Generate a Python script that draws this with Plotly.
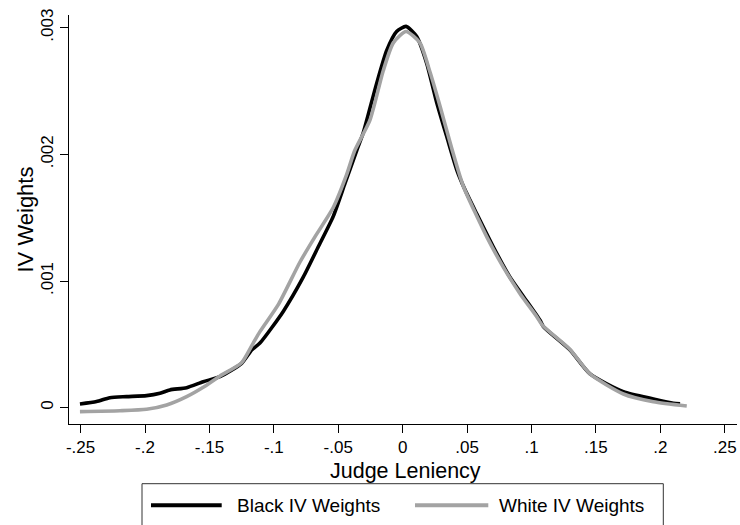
import plotly.graph_objects as go

# Kernel-smoothed IV weights by judge leniency
black_x = [-0.2505, -0.2376, -0.2273, -0.2143, -0.1988, -0.1884, -0.1807, -0.1677,
           -0.1548, -0.1418, -0.125, -0.1172, -0.1108, -0.0927, -0.0772, -0.0655,
           -0.0539, -0.0448, -0.0357, -0.0306, -0.0202, -0.0124, -0.0047, 0.0026,
           0.0109, 0.0186, 0.0264, 0.0342, 0.0419, 0.0484, 0.0575, 0.0703, 0.0833,
           0.0936, 0.1066, 0.1092, 0.1299, 0.1454, 0.1713, 0.1946, 0.2101, 0.2153]
black_y = [0.000029, 0.000048, 0.000079, 0.000087, 0.000095, 0.000114, 0.00014, 0.000158,
           0.000205, 0.000245, 0.00035, 0.000455, 0.00051, 0.00076, 0.00103, 0.00127,
           0.00151, 0.00177, 0.00203, 0.00217, 0.00256, 0.00282, 0.00297, 0.00301,
           0.00293, 0.00272, 0.00241, 0.00214, 0.00188, 0.00172, 0.00153, 0.00127, 0.00103,
           0.00088, 0.00069, 0.00064, 0.000455, 0.000266, 0.000126, 0.000069, 0.000035, 0.00003]

white_x = [-0.2505, -0.2195, -0.1988, -0.1832, -0.1677, -0.1548, -0.1418, -0.125,
           -0.116, -0.1108, -0.0962, -0.0797, -0.068, -0.0539, -0.0435, -0.0372,
           -0.0254, -0.0151, -0.0073, 0.0026, 0.0134, 0.0212, 0.029, 0.038, 0.047,
           0.0652, 0.0781, 0.0911, 0.104, 0.1085, 0.1299, 0.1454, 0.1713, 0.1946, 0.2205]
white_y = [-0.000031, -0.000024, -0.000013, 0.000021, 0.000087, 0.000161, 0.00025, 0.000355,
           0.00051, 0.0006, 0.00082, 0.00115, 0.00135, 0.00158, 0.00184, 0.00203,
           0.00227, 0.00266, 0.00288, 0.00297, 0.00288, 0.00265, 0.00238, 0.00205, 0.00175,
           0.00135, 0.00111, 0.0009, 0.00072, 0.00065, 0.00046, 0.000266, 0.000108, 0.000047, 0.000013]

series_names = ["Black IV Weights", "White IV Weights"]
series_colors = ["#000000", "#a3a3a3"]

x_ticks = [-0.25, -0.2, -0.15, -0.1, -0.05, 0, 0.05, 0.1, 0.15, 0.2, 0.25]
x_ticklabels = ["-.25", "-.2", "-.15", "-.1", "-.05", "0", ".05", ".1", ".15", ".2", ".25"]
y_ticks = [0, 0.001, 0.002, 0.003]
y_ticklabels = ["0", ".001", ".002", ".003"]

FONT = "Liberation Sans, Arial, Helvetica, sans-serif"

# plot area in pixels (740 x 525 canvas)
L, R, T, B = 69, 3, 15, 101
PW, PH = 740 - L - R, 525 - T - B


def px(xp):
    return (xp - L) / PW


def py(yp):
    return (T + PH - yp) / PH


fig = go.Figure()
for xs, ys, name, color in [(black_x, black_y, series_names[0], series_colors[0]),
                            (white_x, white_y, series_names[1], series_colors[1])]:
    fig.add_trace(go.Scatter(x=xs, y=ys, mode="lines", name=name, showlegend=False,
                             line=dict(color=color, width=3.6, shape="spline", smoothing=0.6)))

axis_common = dict(showgrid=False, zeroline=False, showline=True, linecolor="#000000",
                   linewidth=1, ticks="outside", ticklen=8, tickwidth=1, tickcolor="#000000",
                   automargin=False,
                   tickfont=dict(family=FONT, size=17, color="#000000"))

# axis titles
annotations = [
    dict(text="Judge Leniency", xref="paper", yref="paper", x=px(405), y=py(471),
         xanchor="center", yanchor="middle", showarrow=False, borderpad=0,
         font=dict(family=FONT, size=21.5, color="#000000")),
    dict(text="IV Weights", xref="paper", yref="paper", x=px(25), y=py(219.5),
         xanchor="center", yanchor="middle", textangle=-90, showarrow=False, borderpad=0,
         font=dict(family=FONT, size=22, color="#000000")),
]

# legend box with line keys
shapes = [
    dict(type="rect", xref="paper", yref="paper", x0=px(142), x1=px(663.3),
         y0=py(540), y1=py(483.7), line=dict(color="#333333", width=1),
         fillcolor="rgba(0,0,0,0)", layer="above"),
]
key_spans = [(151, 221.7, 236), (415, 488.3, 498.3)]
for (k0, k1, tx), name, color in zip(key_spans, series_names, series_colors):
    shapes.append(dict(type="line", xref="paper", yref="paper", x0=px(k0), x1=px(k1),
                       y0=py(505.3), y1=py(505.3), line=dict(color=color, width=4)))
    annotations.append(dict(text=name, xref="paper", yref="paper", x=px(tx), y=py(505),
                            xanchor="left", yanchor="middle", showarrow=False, borderpad=0,
                            font=dict(family=FONT, size=19, color="#000000")))

fig.update_layout(
    width=740, height=525,
    margin=dict(l=L, r=R, t=T, b=B),
    paper_bgcolor="#ffffff", plot_bgcolor="#ffffff",
    font=dict(family=FONT, color="#000000"),
    xaxis=dict(range=[-0.259, 0.2595], tickmode="array", tickvals=x_ticks,
               ticktext=x_ticklabels, **axis_common),
    yaxis=dict(range=[-0.000129, 0.0031], tickmode="array", tickvals=y_ticks,
               ticktext=y_ticklabels, tickangle=-90, **axis_common),
    showlegend=False,
    shapes=shapes,
    annotations=annotations,
)

fig.write_html("out.html")
